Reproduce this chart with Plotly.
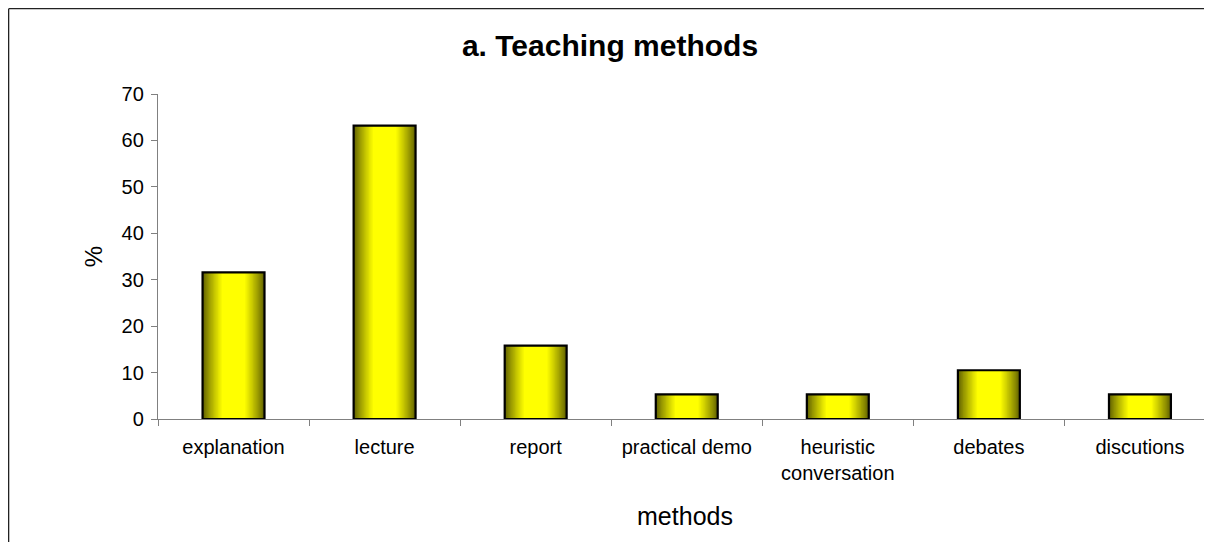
import plotly.graph_objects as go

methods = ["explanation", "lecture", "report", "practical demo",
           "heuristic<br>conversation", "debates", "discutions"]
percent = [31.6, 63.2, 15.8, 5.3, 5.3, 10.5, 5.3]

y_ticks = [0, 10, 20, 30, 40, 50, 60, 70]

BAR_WIDTH = 0.41
EDGE = (96, 96, 0)
CENTER = (255, 255, 0)


def blend(t):
    t = min(max(t, 0.0), 1.0)
    r, g, b = (int(round(e + (c - e) * t)) for e, c in zip(EDGE, CENTER))
    return f"rgb({r},{g},{b})"


fig = go.Figure()

# fake a horizontal gradient: stacked overlay bars, narrower = brighter
n_layers = 16
for k in range(n_layers):
    t = k / (n_layers - 1)
    fig.add_trace(go.Bar(
        x=methods,
        y=percent,
        width=BAR_WIDTH * (1 - 0.62 * t),
        marker=dict(color=blend(t ** 0.85), line=dict(width=0)),
        showlegend=False,
        hoverinfo="skip",
    ))

# outline on top
fig.add_trace(go.Bar(
    x=methods,
    y=percent,
    width=BAR_WIDTH,
    marker=dict(color="rgba(0,0,0,0)", line=dict(color="black", width=2.2)),
    showlegend=False,
    hovertemplate="%{x}: %{y}%<extra></extra>",
))

# page has an 8px body margin, so the layout is shifted back by that much
fig.update_layout(
    width=1212,
    height=542,
    barmode="overlay",
    paper_bgcolor="white",
    plot_bgcolor="white",
    margin=dict(l=150, r=8, t=86, b=131, autoexpand=False),
    font=dict(family="Liberation Sans, Arial, sans-serif", color="black"),
    title=dict(
        text="<b>a. Teaching methods</b>",
        x=0.4967, y=0.9317, xanchor="center", yanchor="middle",
        font=dict(size=30, color="black"),
    ),
    xaxis=dict(
        range=[-0.5, 6.477],
        showline=True, linecolor="#808080", linewidth=1.3,
        ticks="outside", tickson="boundaries", ticklen=6,
        tickcolor="#808080", tickwidth=1.3,
        tickfont=dict(size=20), ticklabelstandoff=10,
        showgrid=False, zeroline=False,
        title=dict(text="methods", font=dict(size=25), standoff=24),
    ),
    yaxis=dict(
        range=[0, 70],
        tickvals=y_ticks,
        showline=True, linecolor="#808080", linewidth=1.3,
        ticks="outside", ticklen=6, tickcolor="#808080", tickwidth=1.3,
        tickfont=dict(size=20), ticklabelstandoff=3,
        showgrid=False, zeroline=False,
        title=dict(text="%", font=dict(size=24), standoff=12),
    ),
    shapes=[
        dict(type="line", xref="paper", yref="paper",
             x0=-0.1417, x1=-0.1417, y0=1.2625, y1=-0.6,
             line=dict(color="#222222", width=1.3)),
        dict(type="line", xref="paper", yref="paper",
             x0=-0.1417, x1=1.1, y0=1.2625, y1=1.2625,
             line=dict(color="#222222", width=1.3)),
    ],
)

fig.write_html("out.html")
